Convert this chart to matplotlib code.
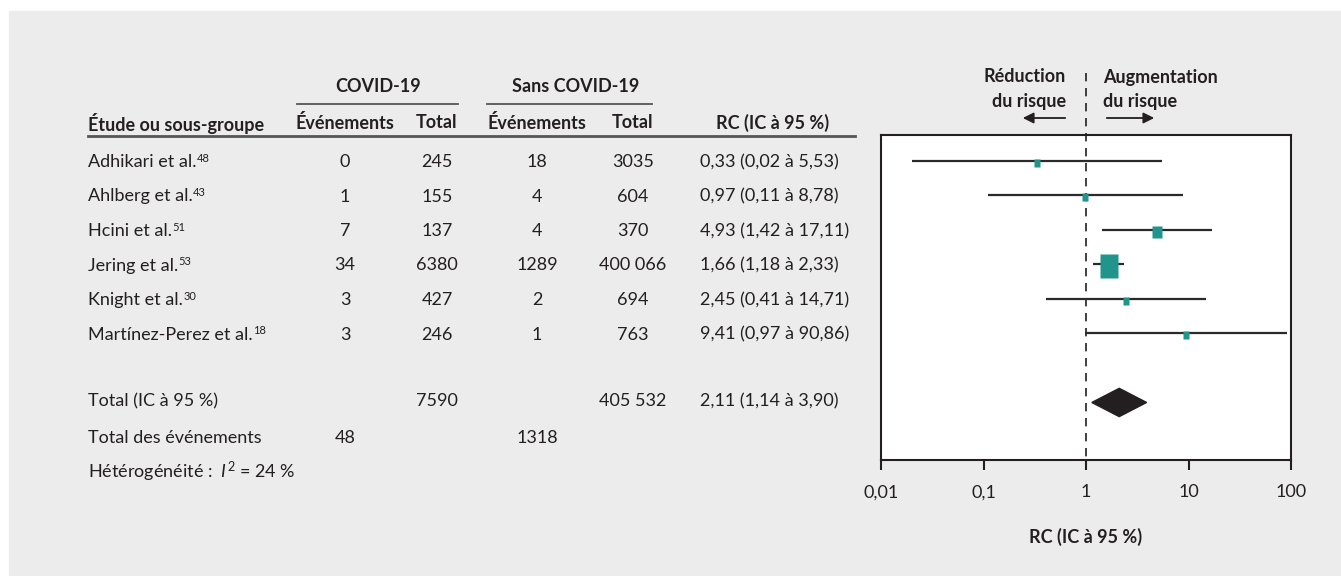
import matplotlib.pyplot as plt
from matplotlib.patches import Rectangle, Polygon

plt.rcParams['font.family'] = ['Lato', 'DejaVu Sans']
plt.rcParams['mathtext.fontset'] = 'custom'
plt.rcParams['mathtext.rm'] = 'Lato'
plt.rcParams['mathtext.it'] = 'Lato:italic'

studies = ['Adhikari et al.', 'Ahlberg et al.', 'Hcini et al.', 'Jering et al.',
           'Knight et al.', 'Martínez-Perez et al.']
refs = ['48', '43', '51', '53', '30', '18']
ev_covid = ['0', '1', '7', '34', '3', '3']
tot_covid = ['245', '155', '137', '6380', '427', '246']
ev_sans = ['18', '4', '4', '1289', '2', '1']
tot_sans = ['3035', '604', '370', '400 066', '694', '763']
rc = [0.33, 0.97, 4.93, 1.66, 2.45, 9.41]
lo = [0.02, 0.11, 1.42, 1.18, 0.41, 0.97]
hi = [5.53, 8.78, 17.11, 2.33, 14.71, 90.86]
box_h = [7.5, 7.5, 12, 23, 8.5, 7.5]   # marker height in px (study weight)

total_rc, total_lo, total_hi = 2.11, 1.14, 3.90
total_covid, total_sans = '7590', '405 532'
events_covid, events_sans = '48', '1318'
i2 = 24


def fmt(v):
    return f'{v:.2f}'.replace('.', ',')


W, H = 1341, 576
fig = plt.figure(figsize=(W / 100, H / 100), dpi=100, facecolor='white')

bg = fig.add_axes([0, 0, 1, 1])
bg.set_xlim(0, W)
bg.set_ylim(H, 0)
bg.axis('off')
bg.add_patch(Rectangle((9, 11), W, H, color='#ececec', zorder=0))

fs = 13
dark = '#231f20'

# header
bg.text(378, 87, 'COVID-19', ha='center', va='center', fontsize=fs, weight='bold', color=dark)
bg.text(576, 87, 'Sans COVID-19', ha='center', va='center', fontsize=fs, weight='bold', color=dark)
bg.plot([297, 458], [104, 104], color='#555', lw=1.3)
bg.plot([487, 652], [104, 104], color='#555', lw=1.3)
hy = 123
bg.text(88, hy, 'Étude ou sous-groupe', ha='left', va='center', fontsize=fs, weight='bold', color=dark)
bg.text(345, hy, 'Événements', ha='center', va='center', fontsize=fs, weight='bold', color=dark)
bg.text(437, hy, 'Total', ha='center', va='center', fontsize=fs, weight='bold', color=dark)
bg.text(537, hy, 'Événements', ha='center', va='center', fontsize=fs, weight='bold', color=dark)
bg.text(633, hy, 'Total', ha='center', va='center', fontsize=fs, weight='bold', color=dark)
bg.text(773, hy, 'RC (IC à 95 %)', ha='center', va='center', fontsize=fs, weight='bold', color=dark)
bg.plot([88, 855], [136, 136], color='#555', lw=2)

row0, step = 161, 34.5
for i in range(len(studies)):
    y = row0 + step * i + 1
    t = bg.text(88, y, studies[i], ha='left', va='center', fontsize=fs, color=dark)
    bg.annotate(refs[i], xy=(1, 0.72), xycoords=t, xytext=(0.3, 0), textcoords='offset points',
                ha='left', va='center', fontsize=8, color=dark)
    bg.text(345, y, ev_covid[i], ha='center', va='center', fontsize=fs, color=dark)
    bg.text(437, y, tot_covid[i], ha='center', va='center', fontsize=fs, color=dark)
    bg.text(537, y, ev_sans[i], ha='center', va='center', fontsize=fs, color=dark)
    bg.text(633, y, tot_sans[i], ha='center', va='center', fontsize=fs, color=dark)
    bg.text(700, y, f'{fmt(rc[i])} ({fmt(lo[i])} à {fmt(hi[i])})', ha='left', va='center',
            fontsize=fs, color=dark)

bg.text(88, 401, 'Total (IC à 95 %)', ha='left', va='center', fontsize=fs, color=dark)
bg.text(437, 401, total_covid, ha='center', va='center', fontsize=fs, color=dark)
bg.text(633, 401, total_sans, ha='center', va='center', fontsize=fs, color=dark)
bg.text(700, 401, f'{fmt(total_rc)} ({fmt(total_lo)} à {fmt(total_hi)})', ha='left',
        va='center', fontsize=fs, color=dark)
bg.text(88, 438, 'Total des événements', ha='left', va='center', fontsize=fs, color=dark)
bg.text(345, 438, events_covid, ha='center', va='center', fontsize=fs, color=dark)
bg.text(537, 438, events_sans, ha='center', va='center', fontsize=fs, color=dark)
bg.text(88, 472, f'Hétérogénéité :  $I^2$ = {i2} %', ha='left', va='center', fontsize=fs, color=dark)

# direction labels
bg.text(1066, 77, 'Réduction', ha='right', va='center', fontsize=fs, weight='bold', color=dark)
bg.text(1066, 101, 'du risque', ha='right', va='center', fontsize=fs, weight='bold', color=dark)
bg.text(1103, 77, 'Augmentation', ha='left', va='center', fontsize=fs, weight='bold', color=dark)
bg.text(1103, 101, 'du risque', ha='left', va='center', fontsize=fs, weight='bold', color=dark)
bg.annotate('', xy=(1020, 118), xytext=(1068, 118),
            arrowprops=dict(arrowstyle='-|>', color=dark, lw=1.3, mutation_scale=16))
bg.annotate('', xy=(1157, 118), xytext=(1104, 118),
            arrowprops=dict(arrowstyle='-|>', color=dark, lw=1.3, mutation_scale=16))

# forest plot
ax = fig.add_axes([881 / W, (H - 460) / H, 410 / W, 325 / H])
ax.set_xscale('log')
ax.set_xlim(0.01, 100)
ymin, ymax = -0.75, (460 - row0) / step
ax.set_ylim(ymax, ymin)
ax.set_facecolor('white')
for s in ax.spines.values():
    s.set_color(dark)
    s.set_linewidth(1.5)
ax.set_yticks([])
ax.set_xticks([0.01, 0.1, 1, 10, 100])
ax.set_xticklabels(['0,01', '0,1', '1', '10', '100'])
ax.minorticks_off()
ax.tick_params(axis='x', length=7.5, width=1.5, color=dark, labelsize=fs, labelcolor=dark, pad=10)
ax.set_xlabel('RC (IC à 95 %)', fontsize=fs, weight='bold', color=dark, labelpad=20)

top_dash = ymin - (135 - 73) / step
ax.plot([1, 1], [top_dash, ymax], color=dark, lw=1.2, ls=(0, (5, 4)), clip_on=False, zorder=1)

rect = [(-0.37, -0.5), (0.37, -0.5), (0.37, 0.5), (-0.37, 0.5)]
for i in range(len(studies)):
    ax.plot([lo[i], hi[i]], [i, i], color='#2a2a2a', lw=1.6, zorder=2, solid_capstyle='butt')
    ax.plot([rc[i]], [i + 0.05], marker=rect, ms=box_h[i] * 0.75, color='#21958c',
            mec='none', zorder=3)

ty = 7
dh = 0.41
ax.add_patch(Polygon([(total_lo, ty), (total_rc, ty - dh), (total_hi, ty), (total_rc, ty + dh)],
                     closed=True, color=dark, zorder=3))

fig.savefig('out.png', dpi=100, facecolor='white')
